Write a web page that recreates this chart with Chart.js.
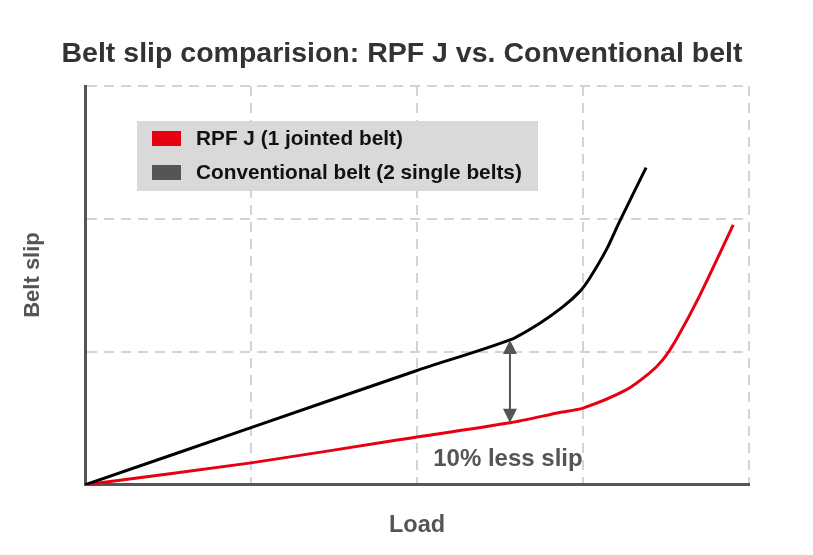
<!DOCTYPE html>
<html>
<head>
<meta charset="utf-8">
<script src="https://cdn.jsdelivr.net/npm/chart.js@4"></script>
<style>
  html, body { margin: 0; padding: 0; background: #fff; }
  #wrap { width: 813px; height: 555px; position: relative; }
</style>
</head>
<body>
<div id="wrap"><canvas id="slipChart"></canvas></div>
<script>
// load (x) and belt slip (y)
const convLoad = [0, 1, 2, 2.56, 2.74, 2.88, 2.98, 3.04, 3.14, 3.22, 3.38];
const convSlip = [0, 0.43, 0.86, 1.09, 1.216, 1.34, 1.453, 1.554, 1.767, 1.98, 2.386];
const rpfLoad = [0, 1, 1.9, 2.56, 2.86, 3.0, 3.26, 3.4, 3.48, 3.56, 3.7, 3.905];
const rpfSlip = [0, 0.165, 0.34, 0.466, 0.544, 0.577, 0.714, 0.84, 0.94, 1.09, 1.416, 1.955];

// double arrow between the two curves
const arrowLoad = 2.56;
const arrowFrom = 0.466;
const arrowTo = 1.09;

const xMax = 4, yMax = 3;

const seriesNames = ['RPF J (1 jointed belt)', 'Conventional belt (2 single belts)'];
const FONT = '"Liberation Sans", Arial, Helvetica, sans-serif';

const toPoints = (xs, ys) => xs.map((v, i) => ({ x: v, y: ys[i] }));

// title, y label, legend box, arrow and label
const extras = {
  id: 'extras',
  afterDraw(chart) {
    const { ctx, chartArea: a, scales: { x, y } } = chart;
    ctx.save();

    // title
    ctx.fillStyle = '#333';
    ctx.font = 'bold 28.5px ' + FONT;
    ctx.textAlign = 'center';
    ctx.textBaseline = 'alphabetic';
    ctx.fillText('Belt slip comparision: RPF J vs. Conventional belt', 402, 62);

    // y axis label (sits a bit above the middle)
    ctx.save();
    ctx.translate(33, 275);
    ctx.rotate(-Math.PI / 2);
    ctx.fillStyle = '#555';
    ctx.font = 'bold 22px ' + FONT;
    ctx.textBaseline = 'middle';
    ctx.fillText('Belt slip', 0, 0);
    ctx.restore();

    // legend box
    const bx = a.left + 52, by = a.top + 35;
    ctx.fillStyle = '#d9d9d9';
    ctx.fillRect(bx, by, 401, 70);
    const swatch = ['#e60012', '#555555'];
    ctx.font = 'bold 20.8px ' + FONT;
    ctx.textAlign = 'left';
    seriesNames.forEach((name, i) => {
      const cy = by + 17 + i * 34;
      ctx.fillStyle = swatch[i];
      ctx.fillRect(bx + 15, cy - 7, 29, 15);
      ctx.fillStyle = '#111';
      ctx.fillText(name, bx + 59, cy + 7);
    });

    // arrow
    const ax = x.getPixelForValue(arrowLoad);
    const yTop = y.getPixelForValue(arrowTo);
    const yBot = y.getPixelForValue(arrowFrom);
    ctx.strokeStyle = '#555';
    ctx.fillStyle = '#555';
    ctx.lineWidth = 2;
    ctx.beginPath();
    ctx.moveTo(ax, yTop + 10);
    ctx.lineTo(ax, yBot - 10);
    ctx.stroke();
    ctx.beginPath();
    ctx.moveTo(ax, yTop); ctx.lineTo(ax - 7, yTop + 14); ctx.lineTo(ax + 7, yTop + 14);
    ctx.closePath(); ctx.fill();
    ctx.beginPath();
    ctx.moveTo(ax, yBot); ctx.lineTo(ax - 7, yBot - 14); ctx.lineTo(ax + 7, yBot - 14);
    ctx.closePath(); ctx.fill();

    // label under the arrow
    ctx.font = 'bold 24px ' + FONT;
    ctx.textAlign = 'center';
    ctx.fillText('10% less slip', ax - 2, a.bottom - 19);

    ctx.restore();
  }
};

const gridColor = '#d4d4d4';

new Chart(document.getElementById('slipChart'), {
  type: 'line',
  data: {
    datasets: [
      { label: seriesNames[1], data: toPoints(convLoad, convSlip), borderColor: '#000', borderWidth: 3,
        pointRadius: 0, tension: 0.25 },
      { label: seriesNames[0], data: toPoints(rpfLoad, rpfSlip), borderColor: '#e60012', borderWidth: 3,
        pointRadius: 0, tension: 0.25 }
    ]
  },
  options: {
    responsive: true,
    maintainAspectRatio: false,
    animation: false,
    events: [],
    layout: { padding: { top: 86, right: 64, bottom: 0, left: 85 } },
    plugins: { legend: { display: false }, title: { display: false }, tooltip: { enabled: false } },
    scales: {
      x: {
        type: 'linear', min: 0, max: xMax,
        ticks: { display: false, stepSize: 1 },
        grid: { color: gridColor, lineWidth: 2, drawTicks: false },
        border: { display: true, color: '#555', width: 3, dash: [10, 7] },
        title: { display: true, text: 'Load', color: '#555',
                 font: { family: FONT, size: 23.5, weight: 'bold' }, padding: { top: 27, bottom: 15 } }
      },
      y: {
        min: 0, max: yMax,
        ticks: { display: false, stepSize: 1 },
        grid: { color: gridColor, lineWidth: 2, drawTicks: false },
        border: { display: true, color: '#555', width: 3, dash: [10, 7] },
        title: { display: false }
      }
    }
  },
  plugins: [extras]
});
</script>
</body>
</html>
